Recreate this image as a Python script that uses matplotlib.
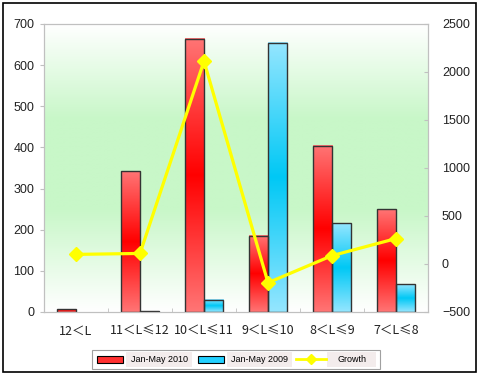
import numpy as np
import matplotlib
matplotlib.use("Agg")
import matplotlib.pyplot as plt
from matplotlib.colors import LinearSegmentedColormap
from matplotlib.patches import Rectangle
from matplotlib.lines import Line2D

categories = ['12＜L', '11＜L≤12', '10＜L≤11', '9＜L≤10', '8＜L≤9', '7＜L≤8']
jan_may_2010 = [7, 342, 664, 185, 404, 250]
jan_may_2009 = [0, 2, 30, 655, 216, 68]
growth = [100, 110, 2113, -195, 87, 265]
left_ticks = [0, 100, 200, 300, 400, 500, 600, 700]
right_ticks = [-500, 0, 500, 1000, 1500, 2000, 2500]

plt.rcParams['font.family'] = ['Liberation Sans', 'DejaVu Sans']

W, H = 480, 375
fig = plt.figure(figsize=(W / 100, H / 100), dpi=100)
fig.patch.set_facecolor('white')

ax = fig.add_axes([44 / W, 1 - 312 / H, (428 - 44) / W, (312 - 24) / H])
ax.set_xlim(-0.5, len(categories) - 0.5)
ax.set_ylim(0, 700)

# background gradient
bg_cmap = LinearSegmentedColormap.from_list(
    'bg', [(0, '#ffffff'), (0.36, '#c8f7c8'), (0.67, '#c8f7c8'), (1, '#ffffff')])
ax.imshow(np.linspace(0, 1, 256).reshape(-1, 1), cmap=bg_cmap, origin='lower',
          extent=[0, 1, 0, 1], transform=ax.transAxes, aspect='auto', zorder=0)

red_cmap = LinearSegmentedColormap.from_list('r', ['#ff7575', '#ff0000', '#ff7575'])
blue_cmap = LinearSegmentedColormap.from_list('b', ['#95e6ff', '#00c8f5', '#95e6ff'])

x = np.arange(len(categories))
bw = 0.3
grad = np.linspace(0, 1, 256).reshape(-1, 1)


def draw_bars(xs, vals, cmap):
    bars = ax.bar(xs, vals, width=bw, facecolor='none', edgecolor='#333333',
                  linewidth=1.0, zorder=3)
    for b, v in zip(bars, vals):
        if v == 0:
            b.set_linewidth(0)
            continue
        x0, y0 = b.get_x(), b.get_y()
        ax.imshow(grad, cmap=cmap, origin='lower', aspect='auto',
                  extent=[x0, x0 + b.get_width(), y0, y0 + b.get_height()], zorder=2)


draw_bars(x - bw / 2, jan_may_2010, red_cmap)
draw_bars(x + bw / 2, jan_may_2009, blue_cmap)
ax.set_xlim(-0.5, len(categories) - 0.5)
ax.set_ylim(0, 700)
ax.set_aspect('auto')

spine_c = '#c0c0c0'
for s in ax.spines.values():
    s.set_color(spine_c)
ax.set_yticks(left_ticks)
ax.tick_params(axis='y', direction='out', length=3, color=spine_c, pad=4,
               labelsize=9, labelcolor='#222222')
ax.set_xticks(x)
ax.set_xticklabels(categories, family=['Noto Sans CJK SC', 'DejaVu Sans'])
ax.tick_params(axis='x', which='major', length=0, pad=9, labelsize=9, labelcolor='#222222')
ax.set_xticks(np.arange(0.5, len(categories) - 0.5, 1), minor=True)
ax.tick_params(axis='x', which='minor', direction='in', length=3, color=spine_c)

ax2 = ax.twinx()
ax2.set_ylim(-500, 2500)
ax2.set_yticks(right_ticks)
for s in ax2.spines.values():
    s.set_color(spine_c)
ax2.tick_params(axis='y', direction='in', length=3, color=spine_c, pad=10,
                labelsize=9, labelcolor='#222222')
ax2.plot(x, growth, color='#ffff00', linewidth=2.3, marker='D', markersize=7,
         markeredgecolor='#ffff00', zorder=5)

# outer frame
fig.add_artist(Rectangle((3 / W, 1 - 372 / H), 473 / W, 369 / H, transform=fig.transFigure,
                         facecolor='none', edgecolor='black', linewidth=1.2))


# legend drawn in figure pixel coordinates
def fx(px):
    return px / W


def fy(py):
    return 1 - py / H


fig.add_artist(Rectangle((fx(92), fy(369)), fx(380) - fx(92), fy(350) - fy(369),
                         transform=fig.transFigure, facecolor='white',
                         edgecolor='#a0a0a0', linewidth=0.8))
legend_items = [
    ('Jan-May 2010', 'patch', '#ff3030', 97, 126, 192),
    ('Jan-May 2009', 'patch', '#22d0ff', 198, 227, 292),
    ('Growth', 'line', '#ffff00', 296, 327, 376),
]
for label, kind, col, hx, tx0, tx1 in legend_items:
    if kind == 'patch':
        fig.add_artist(Rectangle((fx(hx), fy(362.5)), fx(26), fy(355.5) - fy(362.5),
                                 transform=fig.transFigure, facecolor=col,
                                 edgecolor='black', linewidth=0.8))
    else:
        fig.add_artist(Line2D([fx(hx), fx(hx + 30)], [fy(359), fy(359)],
                              transform=fig.transFigure, color=col, linewidth=2))
        fig.add_artist(Line2D([fx(hx + 15)], [fy(359)], transform=fig.transFigure,
                              color=col, marker='D', markersize=5, linestyle='none'))
    fig.add_artist(Rectangle((fx(tx0), fy(366.5)), fx(tx1) - fx(tx0), fy(352.5) - fy(366.5),
                             transform=fig.transFigure, facecolor='#f3ecec',
                             edgecolor='none'))
    fig.text((fx(tx0) + fx(tx1)) / 2, fy(359), label, ha='center', va='center',
             fontsize=6.5, color='black')

fig.savefig('out.png', dpi=100)
